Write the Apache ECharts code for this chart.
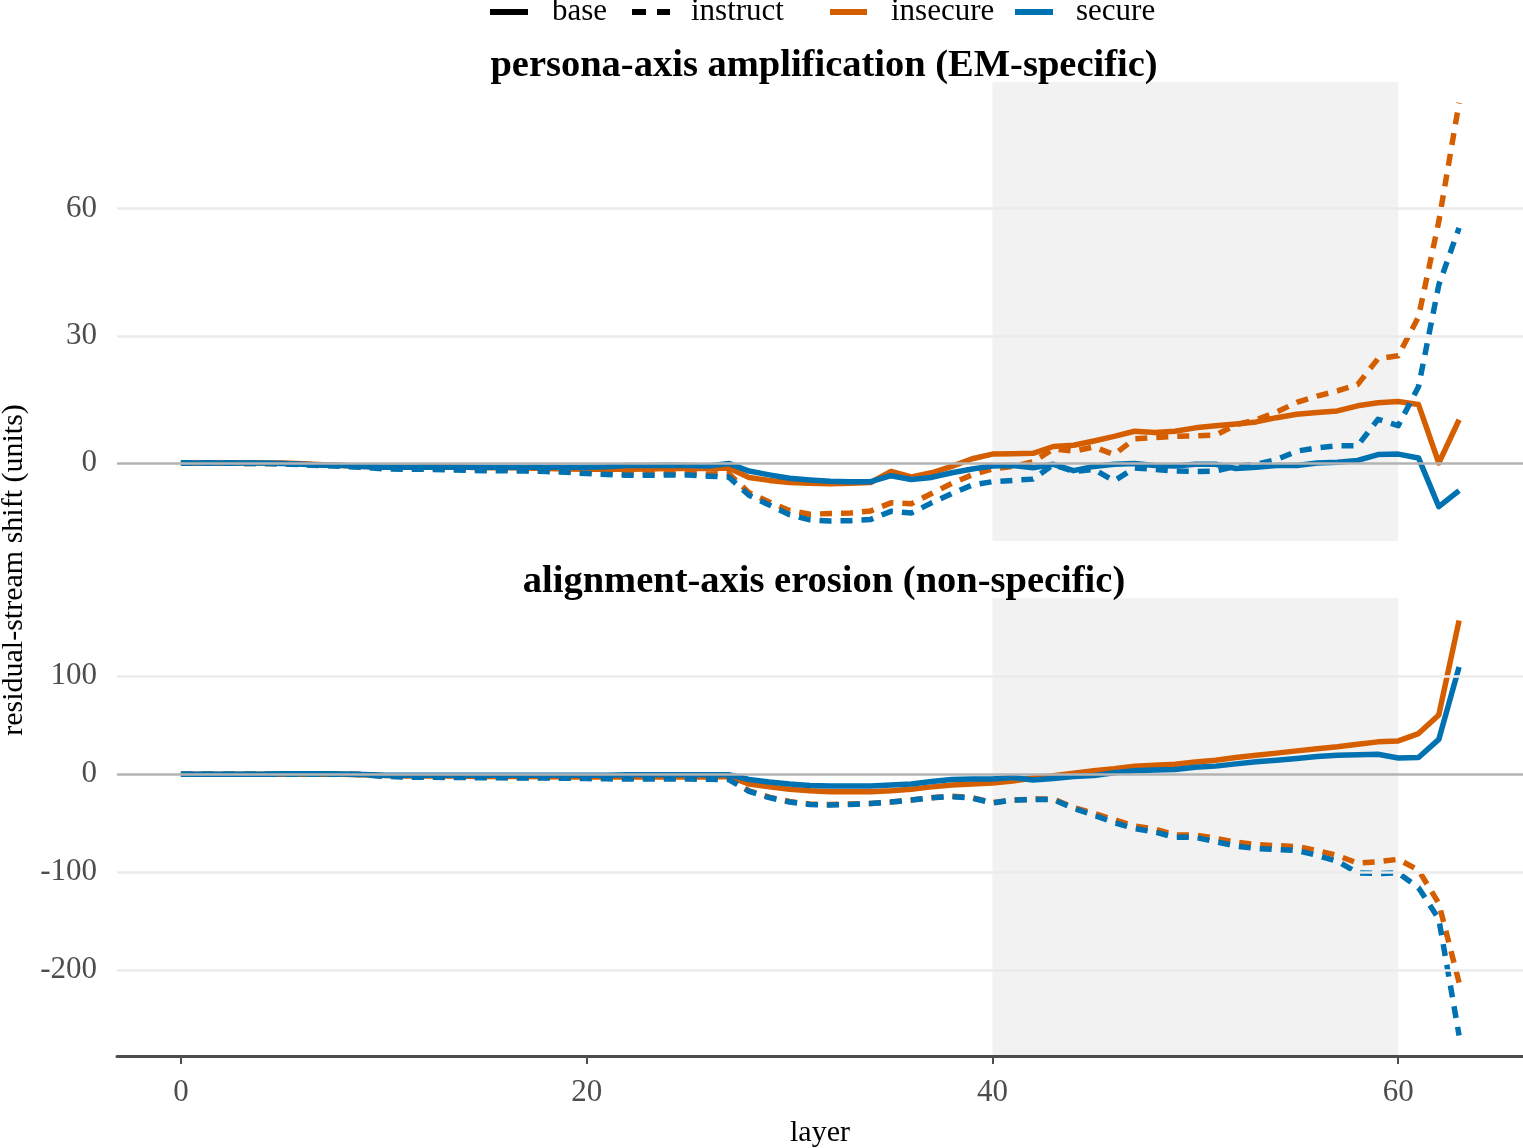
<!DOCTYPE html>
<html>
<head>
<meta charset="utf-8">
<script src="https://cdn.jsdelivr.net/npm/echarts@6/dist/echarts.min.js"></script>
<style>
  html, body { margin: 0; padding: 0; background: #fff; }
  #chart { width: 1523px; height: 1148px; }
</style>
</head>
<body>
<div id="chart"></div>
<script>
// layers 0..63
const layers = Array.from({ length: 64 }, (_, i) => i);

// persona-axis amplification (top panel)
const personaBaseInsecure = [0, 0, 0, 0, 0, 0, -0.2, -0.4, -0.6, -0.8,
  -1.0, -1.0, -0.9, -0.9, -1.0, -1.1, -1.1, -1.2, -1.3, -1.4,
  -1.5, -1.5, -1.5, -1.4, -1.3, -1.3, -1.3, -1.2, -3.4, -4.1,
  -4.6, -4.8, -4.9, -4.8, -4.6, -2.0, -3.3, -2.3, -0.8, 1.0,
  2.1, 2.2, 2.3, 3.9, 4.2, 5.2, 6.3, 7.5, 7.2, 7.5,
  8.3, 8.8, 9.2, 9.7, 10.7, 11.5, 11.9, 12.3, 13.5, 14.2,
  14.5, 13.8, 0, 10.2];
const personaInstructInsecure = [0, 0, 0, -0.1, -0.1, -0.2, -0.3, -0.5, -0.7, -0.9,
  -1.2, -1.3, -1.3, -1.4, -1.5, -1.6, -1.6, -1.7, -1.8, -2.0,
  -2.2, -2.4, -2.5, -2.5, -2.4, -2.4, -2.6, -2.5, -7.0, -9.2,
  -11.2, -12.1, -11.9, -11.8, -11.3, -9.4, -9.6, -7.2, -4.8, -2.8,
  -1.4, -0.8, 0.3, 3.3, 2.8, 3.8, 2.0, 5.7, 6.0, 6.3,
  6.4, 6.6, 9.0, 10.2, 12.0, 14.3, 15.8, 17.0, 18.5, 24.6,
  25.3, 34.5, 57.0, 85.0];
const personaBaseSecure = [0, 0, 0, 0, 0, -0.1, -0.3, -0.5, -0.6, -0.8,
  -1.0, -1.0, -1.0, -1.0, -1.0, -1.0, -1.0, -1.0, -1.0, -1.0,
  -1.0, -0.9, -0.6, -0.6, -0.5, -0.6, -0.7, -0.1, -1.9, -2.8,
  -3.6, -4.0, -4.3, -4.4, -4.4, -3.0, -3.9, -3.4, -2.3, -1.4,
  -0.7, -0.6, -1.1, -0.3, -1.8, -0.8, -0.3, -0.1, -0.6, -0.7,
  -0.3, -0.3, -1.3, -1.0, -0.6, -0.6, 0, 0.2, 0.6, 2.0,
  2.1, 1.2, -10.3, -6.5];
const personaInstructSecure = [0, 0, 0, -0.1, -0.1, -0.2, -0.4, -0.6, -0.8, -1.0,
  -1.4, -1.5, -1.5, -1.6, -1.7, -1.8, -1.8, -1.9, -2.0, -2.2,
  -2.5, -2.7, -2.9, -2.9, -2.8, -2.8, -3.1, -3.3, -7.6, -9.9,
  -12.2, -13.4, -13.7, -13.6, -13.3, -11.4, -11.8, -9.4, -7.2, -5.2,
  -4.4, -4.1, -3.8, -0.4, -2.0, -1.5, -4.2, -1.2, -1.5, -1.9,
  -2.0, -1.9, -0.8, -0.3, 0.8, 2.8, 3.6, 4.1, 4.1, 10.3,
  8.8, 18.0, 42.0, 55.5];

// alignment-axis erosion (bottom panel)
const alignBaseInsecure = [0, 0, 0, 0, 0, 0, 0, 0, 0, -0.5,
  -1.5, -2.0, -2.0, -2.0, -2.2, -2.4, -2.5, -2.5, -2.6, -2.8,
  -3.0, -3.0, -2.8, -2.8, -2.8, -2.8, -2.8, -2.5, -10.0, -13.0,
  -15.5, -17.0, -18.0, -18.0, -18.0, -17.0, -15.5, -13.0, -11.0, -10.0,
  -9.0, -7.0, -4.0, -1.5, 1.0, 3.4, 5.5, 8.2, 9.2, 10.2,
  12.5, 14.3, 17.0, 19.4, 21.5, 23.8, 26.0, 28.0, 30.5, 33.0,
  34.0, 41.5, 60.5, 157.0];
const alignInstructInsecure = [0, 0, 0, 0, 0, 0, 0, 0, 0, -0.5,
  -2.0, -2.5, -2.6, -2.8, -3.0, -3.2, -3.3, -3.4, -3.5, -3.6,
  -3.8, -4.0, -4.0, -4.0, -4.0, -4.0, -4.0, -4.0, -17.0, -23.5,
  -28.0, -30.5, -31.0, -30.5, -30.0, -28.5, -26.5, -24.0, -22.5, -24.0,
  -29.0, -26.5, -25.5, -25.5, -34.0, -40.0, -46.5, -53.0, -56.0, -62.2,
  -62.2, -65.5, -69.5, -72.0, -73.0, -74.0, -78.0, -83.0, -91.0, -89.5,
  -87.0, -98.0, -132.0, -213.0];
const alignBaseSecure = [0, 0, 0, 0, 0, 0.3, 0.3, 0.3, 0.2, -0.3,
  -1.0, -1.0, -1.0, -1.0, -1.0, -1.0, -1.0, -1.0, -1.0, -1.0,
  -1.0, -1.0, -0.6, -0.6, -0.6, -0.6, -0.6, -0.5, -5.5, -8.0,
  -10.0, -11.5, -12.2, -12.2, -12.0, -11.0, -10.0, -7.5, -5.5, -5.0,
  -5.0, -3.5, -6.0, -4.5, -2.5, -1.5, 1.5, 3.4, 4.2, 4.8,
  7.0, 8.2, 10.5, 12.6, 14.3, 16.0, 18.0, 19.4, 19.8, 20.4,
  16.5, 17.0, 35.5, 109.5];
const alignInstructSecure = [0, 0, 0, 0, 0, 0, 0, 0, 0, -0.5,
  -2.2, -3.0, -3.1, -3.3, -3.5, -3.6, -3.8, -3.9, -4.0, -4.2,
  -4.5, -4.8, -5.0, -5.0, -5.0, -5.0, -5.2, -5.5, -17.5, -24.0,
  -28.5, -31.0, -31.5, -31.0, -30.0, -28.5, -26.5, -24.0, -23.0, -24.5,
  -29.5, -26.5, -26.0, -26.0, -35.0, -42.0, -49.5, -55.5, -59.0, -64.6,
  -64.6, -69.0, -73.5, -76.0, -77.0, -78.0, -83.0, -89.0, -101.0, -101.5,
  -101.0, -116.0, -148.0, -267.0];

const personaTicks = [0, 30, 60];
const alignTicks = [-200, -100, 0, 100];
const layerTicks = [0, 20, 40, 60];

const ORANGE = '#D55E00';
const BLUE = '#0072B2';
const FONT = 'Liberation Serif';
const DASH = [12, 9];

const pair = vals => layers.map((l, i) => [l, vals[i]]);

function lineSeries(idx, vals, color, dashed) {
  return {
    type: 'line',
    xAxisIndex: idx,
    yAxisIndex: idx,
    data: pair(vals),
    showSymbol: false,
    symbol: 'none',
    silent: true,
    z: 3,
    lineStyle: { color: color, width: 5.5, type: dashed ? DASH : 'solid', cap: 'butt', join: 'round' }
  };
}

// shaded layers 40-60, grid lines and the zero line
function backdrop(idx, ticks) {
  const grid = ticks.filter(t => t !== 0).map(t => ({
    yAxis: t, lineStyle: { color: '#ebebeb', width: 2.5, type: 'solid' }
  }));
  grid.push({ yAxis: 0, lineStyle: { color: '#b3b3b3', width: 2.5, type: 'solid' } });
  return {
    type: 'line',
    xAxisIndex: idx,
    yAxisIndex: idx,
    data: [],
    silent: true,
    z: 1,
    markArea: {
      silent: true,
      itemStyle: { color: 'rgba(0,0,0,0.05)' },
      data: [[{ xAxis: 40 }, { xAxis: 60 }]]
    },
    markLine: {
      silent: true,
      symbol: 'none',
      label: { show: false },
      animation: false,
      data: grid
    }
  };
}

const chart = echarts.init(document.getElementById('chart'), null, { renderer: 'canvas' });

const option = {
  animation: false,
  backgroundColor: '#ffffff',
  textStyle: { fontFamily: FONT },
  title: [
    { text: 'persona-axis amplification (EM-specific)', left: 819, top: 42, textAlign: 'center',
      textStyle: { fontFamily: FONT, fontWeight: 'bold', fontSize: 38.5, color: '#000' } },
    { text: 'alignment-axis erosion (non-specific)', left: 819, top: 558, textAlign: 'center',
      textStyle: { fontFamily: FONT, fontWeight: 'bold', fontSize: 38.5, color: '#000' } }
  ],
  grid: [
    { left: 117, right: 0, top: 82, height: 459, outerBoundsMode: 'none' },
    { left: 117, right: 0, top: 598, height: 458, outerBoundsMode: 'none' }
  ],
  xAxis: [
    { gridIndex: 0, type: 'value', min: -3.15, max: 66.15, show: false },
    { gridIndex: 1, type: 'value', min: -3.15, max: 66.15,
      name: 'layer', nameLocation: 'middle', nameGap: 62,
      nameTextStyle: { fontFamily: FONT, fontSize: 30, color: '#000' },
      axisLine: { show: true, onZero: false, lineStyle: { color: '#4d4d4d', width: 3 } },
      axisTick: { show: true, length: 8, customValues: layerTicks, lineStyle: { color: '#4d4d4d', width: 2 } },
      axisLabel: { customValues: layerTicks, margin: 21, fontFamily: FONT, fontSize: 31, color: '#4d4d4d' },
      splitLine: { show: false }
    }
  ],
  yAxis: [
    { gridIndex: 0, type: 'value', min: -18.4, max: 89.9,
      axisLine: { show: false }, axisTick: { show: false }, splitLine: { show: false },
      axisLabel: { customValues: personaTicks, margin: 20, fontFamily: FONT, fontSize: 31, color: '#4d4d4d' }
    },
    { gridIndex: 1, type: 'value', min: -288, max: 180,
      axisLine: { show: false }, axisTick: { show: false }, splitLine: { show: false },
      axisLabel: { customValues: alignTicks, margin: 20, fontFamily: FONT, fontSize: 31, color: '#4d4d4d' }
    }
  ],
  graphic: [
    { type: 'text', rotation: Math.PI / 2, x: 14, y: 570,
      style: { text: 'residual-stream shift (units)', fontFamily: FONT, fontSize: 30, fill: '#000',
        textAlign: 'center', textVerticalAlign: 'middle' } },
    // legend
    { type: 'line', shape: { x1: 490, y1: 12, x2: 528, y2: 12 }, style: { stroke: '#000', lineWidth: 6 } },
    { type: 'text', x: 552, y: 12, style: { text: 'base', fontFamily: FONT, fontSize: 31, fill: '#000', textVerticalAlign: 'middle' } },
    { type: 'line', shape: { x1: 632, y1: 12, x2: 670, y2: 12 }, style: { stroke: '#000', lineWidth: 6, lineDash: [14, 11] } },
    { type: 'text', x: 691, y: 12, style: { text: 'instruct', fontFamily: FONT, fontSize: 31, fill: '#000', textVerticalAlign: 'middle' } },
    { type: 'line', shape: { x1: 830, y1: 12, x2: 867, y2: 12 }, style: { stroke: ORANGE, lineWidth: 6 } },
    { type: 'text', x: 891, y: 12, style: { text: 'insecure', fontFamily: FONT, fontSize: 31, fill: '#000', textVerticalAlign: 'middle' } },
    { type: 'line', shape: { x1: 1015, y1: 12, x2: 1053, y2: 12 }, style: { stroke: BLUE, lineWidth: 6 } },
    { type: 'text', x: 1076, y: 12, style: { text: 'secure', fontFamily: FONT, fontSize: 31, fill: '#000', textVerticalAlign: 'middle' } }
  ],
  series: [
    backdrop(0, personaTicks),
    lineSeries(0, personaBaseInsecure, ORANGE, false),
    lineSeries(0, personaInstructInsecure, ORANGE, true),
    lineSeries(0, personaBaseSecure, BLUE, false),
    lineSeries(0, personaInstructSecure, BLUE, true),
    backdrop(1, alignTicks),
    lineSeries(1, alignBaseInsecure, ORANGE, false),
    lineSeries(1, alignInstructInsecure, ORANGE, true),
    lineSeries(1, alignBaseSecure, BLUE, false),
    lineSeries(1, alignInstructSecure, BLUE, true)
  ]
};

chart.setOption(option);
</script>
</body>
</html>
